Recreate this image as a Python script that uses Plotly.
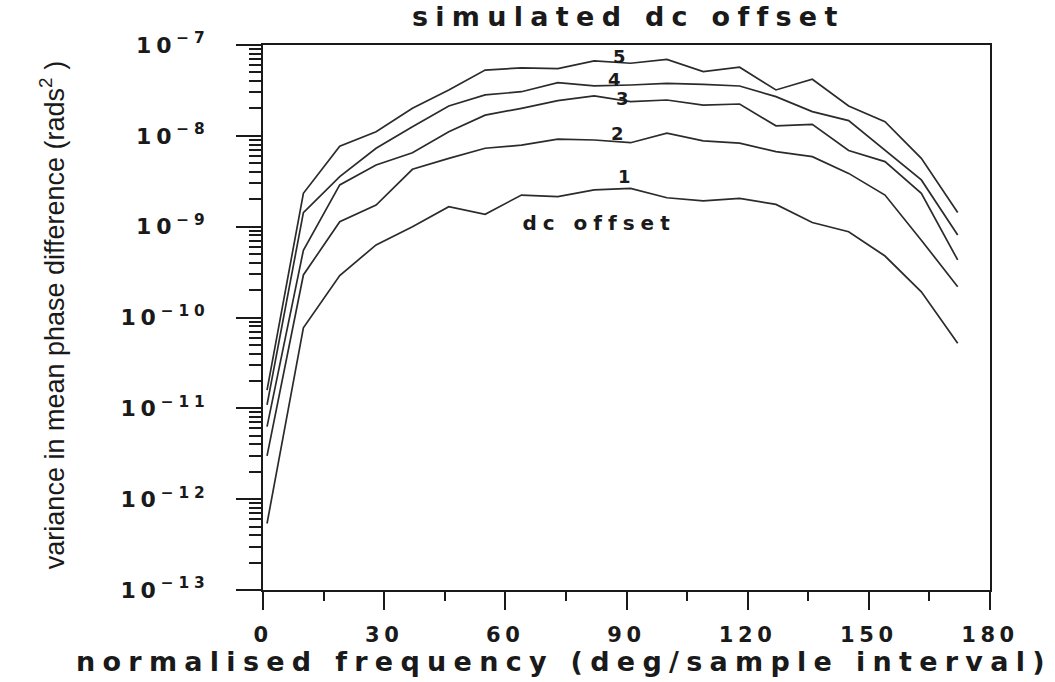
import plotly.graph_objects as go

# normalised frequency (deg/sample interval)
freq = [1, 10, 19, 28, 37, 46, 55, 64, 73, 82, 91, 100, 109, 118, 127, 136, 145, 154, 163, 172]

# variance in mean phase difference (rads^2)
curve1 = [5.4e-13, 7.7e-11, 2.9e-10, 6.3e-10, 1.0e-9, 1.66e-9, 1.37e-9, 2.23e-9, 2.14e-9, 2.54e-9,
          2.64e-9, 2.08e-9, 1.92e-9, 2.05e-9, 1.76e-9, 1.11e-9, 8.8e-10, 4.75e-10, 1.92e-10, 5.2e-11]
curve2 = [3.0e-12, 2.94e-10, 1.135e-9, 1.73e-9, 4.28e-9, 5.65e-9, 7.3e-9, 7.9e-9, 9.2e-9, 9.0e-9,
          8.4e-9, 1.07e-8, 8.8e-9, 8.3e-9, 6.7e-9, 5.9e-9, 3.86e-9, 2.23e-9, 7.1e-10, 2.18e-10]
curve3 = [6.3e-12, 5.5e-10, 2.88e-9, 4.78e-9, 6.5e-9, 1.11e-8, 1.69e-8, 2.01e-8, 2.44e-8, 2.75e-8,
          2.38e-8, 2.48e-8, 2.18e-8, 2.24e-8, 1.29e-8, 1.34e-8, 6.9e-9, 5.2e-9, 2.33e-9, 4.3e-10]
curve4 = [1.09e-11, 1.43e-9, 3.55e-9, 7.3e-9, 1.26e-8, 2.13e-8, 2.82e-8, 3.06e-8, 3.85e-8, 3.54e-8,
          3.63e-8, 3.78e-8, 3.69e-8, 3.54e-8, 2.70e-8, 1.85e-8, 1.47e-8, 6.98e-9, 3.27e-9, 8.1e-10]
curve5 = [1.59e-11, 2.33e-9, 7.7e-9, 1.11e-8, 2.01e-8, 3.2e-8, 5.3e-8, 5.6e-8, 5.5e-8, 6.7e-8,
          6.3e-8, 6.95e-8, 5.1e-8, 5.7e-8, 3.2e-8, 4.2e-8, 2.13e-8, 1.43e-8, 5.65e-9, 1.43e-9]

series = [curve1, curve2, curve3, curve4, curve5]

# curve labels (text, x, log10 y)
label_text = ["1", "2", "3", "4", "5", "dc offset"]
label_x = [90, 88.3, 89.6, 87.6, 88.8, 83.3]
label_logy = [-8.45, -7.972, -7.587, -7.385, -7.129, -8.96]

x_ticks = [0, 30, 60, 90, 120, 150, 180]
x_minor = [15, 45, 75, 105, 135, 165]
y_exponents = [-7, -8, -9, -10, -11, -12, -13]
y_ticktext = ["10<sup>\u2212%d</sup>" % (-e) for e in y_exponents]

title_text = "simulated dc offset"
xtitle_text = "normalised frequency (deg/sample interval)"
ytitle_text = "variance in mean phase difference (rads<sup>2</sup> )"

BOLD = "DejaVu Sans"
INK = "#1a1a1a"

fig = go.Figure()
for s in series:
    fig.add_trace(go.Scatter(x=freq, y=s, mode="lines",
                             line=dict(color="#2b2b2b", width=1.7),
                             showlegend=False, hoverinfo="skip"))

y_minor = [m * 10.0 ** e for e in range(-13, -7) for m in range(2, 10)]

fig.update_xaxes(range=[0, 180], tickvals=x_ticks, ticks="outside", ticklen=18, tickwidth=2,
                 tickcolor=INK, showline=True, linewidth=2, linecolor=INK, mirror=True,
                 showgrid=False, zeroline=False,
                 tickfont=dict(family=BOLD, size=21, color=INK, weight="bold"),
                 ticklabelstandoff=7,
                 minor=dict(tickvals=x_minor, ticks="outside", ticklen=9, tickwidth=2,
                            tickcolor=INK, showgrid=False))
fig.update_yaxes(type="log", range=[-13, -7], tickvals=[10.0 ** e for e in y_exponents],
                 ticktext=y_ticktext, ticks="outside", ticklen=25, tickwidth=2, tickcolor=INK,
                 showline=True, linewidth=2, linecolor=INK, mirror=True,
                 showgrid=False, zeroline=False,
                 tickfont=dict(family=BOLD, size=22, color=INK, weight="bold"),
                 ticklabelstandoff=22,
                 minor=dict(tickvals=y_minor, ticks="outside", ticklen=12, tickwidth=1.5,
                            tickcolor=INK, showgrid=False))

annotations = []
for t, x, ly in zip(label_text, label_x, label_logy):
    annotations.append(dict(x=x, y=ly, xref="x", yref="y", text=t, showarrow=False,
                            xanchor="center", yanchor="middle",
                            font=dict(family=BOLD, size=18 if len(t) == 1 else 20,
                                      color=INK, weight="bold")))
annotations.append(dict(x=0.503, y=1.0514, xref="paper", yref="paper", text=title_text,
                        xanchor="center", yanchor="middle", showarrow=False,
                        font=dict(family=BOLD, size=27, color=INK, weight="bold")))
annotations.append(dict(x=0.414, y=-0.1321, xref="paper", yref="paper", text=xtitle_text,
                        xanchor="center", yanchor="middle", showarrow=False,
                        font=dict(family=BOLD, size=27, color=INK, weight="bold")))
annotations.append(dict(x=-0.29, y=0.5046, xref="paper", yref="paper", text=ytitle_text,
                        xanchor="center", yanchor="middle", textangle=-90, showarrow=False,
                        font=dict(family="Liberation Sans Narrow, Liberation Sans", size=27, color=INK)))

fig.update_layout(width=1055, height=682, margin=dict(l=263, r=65, t=45, b=92),
                  paper_bgcolor="white", plot_bgcolor="white", annotations=annotations)

post = """
var gd = document.getElementById('{plot_id}');
gd.querySelectorAll('text').forEach(function(t){
  var s = t.textContent;
  if (s.indexOf('variance') === 0) return;
  var fs = parseFloat(window.getComputedStyle(t).fontSize) || 20;
  var ls = '0.22em';
  if (s === 'dc offset') ls = '0.3em';
  else if (fs >= 26) ls = '0.27em';
  t.style.letterSpacing = ls;
});
"""
fig.write_html("out.html", post_script=post)
